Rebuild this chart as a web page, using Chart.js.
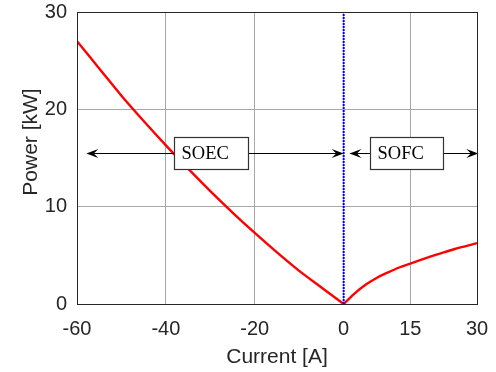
<!DOCTYPE html>
<html>
<head>
<meta charset="utf-8">
<script src="https://cdn.jsdelivr.net/npm/chart.js@4"></script>
<style>
  body { margin: 0; background: #fff; }
  #box { width: 496px; height: 372px; }
</style>
</head>
<body>
<div id="box"><canvas id="grafico" width="496" height="372"></canvas></div>
<script>
// valori
const soecCurrent = [-60, -55, -50, -45, -40, -35, -30, -25, -20, -15, -10, -5, 0];
const soecPower = [27.0, 24.2, 21.4, 18.8, 16.3, 13.9, 11.6, 9.4, 7.3, 5.3, 3.4, 1.7, 0];
const sofcCurrent = [0, 2.5, 5, 7.5, 10, 12.5, 15, 17.5, 20, 22.5, 25, 27.5, 30];
const sofcPower = [0, 1.1, 2.0, 2.7, 3.25, 3.75, 4.15, 4.55, 4.95, 5.3, 5.65, 5.95, 6.26];

const xTicks = [-60, -40, -20, 0, 15, 30];
const yTicks = [0, 10, 20, 30];

const divider = [0];

// frecce e riquadri (in unita' dei dati)
const arrows = [
  { from: -57.9, to: 0, y: 15.5 },
  { from: 1.3, to: 30.3, y: 15.5 },
];
const labels = [
  { text: "SOEC", left: -38.2, y: 15.5 },
  { text: "SOFC", left: 6.0, y: 15.5 },
];

const xTitle = "Current [A]";
const yTitle = "Power [kW]";

document.addEventListener("DOMContentLoaded", function () {
  const soec = soecCurrent.map((c, i) => ({ x: c, y: soecPower[i] }));
  const sofc = sofcCurrent.map((c, i) => ({ x: c, y: sofcPower[i] }));

  const testo = "#262626";
  const sans = "'Liberation Sans', Arial, sans-serif";

  function arrowHead(ctx, tx, ty, dir) {
    const L = 12, W = 4.6;
    ctx.beginPath();
    ctx.moveTo(tx, ty);
    ctx.lineTo(tx - dir * L, ty - W);
    ctx.lineTo(tx - dir * L * 0.62, ty);
    ctx.lineTo(tx - dir * L, ty + W);
    ctx.closePath();
    ctx.fill();
  }

  const extra = {
    id: "extra",
    afterDatasetsDraw(chart) {
      const ctx = chart.ctx;
      const x = chart.scales.x;
      const y = chart.scales.y;
      const area = chart.chartArea;
      ctx.save();

      // frecce
      ctx.strokeStyle = "#000";
      ctx.fillStyle = "#000";
      ctx.lineWidth = 1;
      arrows.forEach((a) => {
        const x1 = x.getPixelForValue(a.from);
        const x2 = x.getPixelForValue(a.to);
        const py = Math.round(y.getPixelForValue(a.y)) + 0.5;
        ctx.beginPath();
        ctx.moveTo(x1 + 6, py);
        ctx.lineTo(x2 - 6, py);
        ctx.stroke();
        arrowHead(ctx, x1, py, -1);
        arrowHead(ctx, x2, py, 1);
      });

      // riquadri
      ctx.font = "18.5px 'Liberation Serif', 'Times New Roman', serif";
      ctx.textBaseline = "middle";
      labels.forEach((l) => {
        const w = ctx.measureText(l.text).width;
        const bx = Math.round(x.getPixelForValue(l.left)) + 0.5;
        const cy = y.getPixelForValue(l.y);
        const bw = Math.round(w + 27);
        const bh = 32;
        ctx.fillStyle = "#fff";
        ctx.fillRect(bx, cy - bh / 2, bw, bh);
        ctx.strokeStyle = "#333";
        ctx.lineWidth = 1.2;
        ctx.strokeRect(bx, Math.round(cy - bh / 2) + 0.5, bw, bh);
        ctx.fillStyle = "#000";
        ctx.textAlign = "left";
        ctx.fillText(l.text, bx + 7, cy + 1);
      });

      // cornice
      ctx.strokeStyle = testo;
      ctx.lineWidth = 1;
      ctx.strokeRect(
        Math.round(area.left) + 0.5,
        Math.round(area.top) + 0.5,
        Math.round(area.right - area.left),
        Math.round(area.bottom - area.top)
      );

      // titoli assi
      ctx.fillStyle = testo;
      ctx.font = "21px " + sans;
      ctx.textAlign = "center";
      ctx.textBaseline = "middle";
      ctx.fillText(xTitle, (area.left + area.right) / 2, 357);
      ctx.translate(31, 142);
      ctx.rotate(-Math.PI / 2);
      ctx.fillText(yTitle, 0, 0);
      ctx.restore();
    },
  };

  const ctx = document.getElementById("grafico").getContext("2d");
  new Chart(ctx, {
    type: "line",
    data: {
      datasets: [
        {
          data: divider.flatMap((v) => [{ x: v, y: yTicks[0] }, { x: v, y: yTicks[yTicks.length - 1] }]),
          borderColor: "#0000ff",
          borderWidth: 2,
          borderDash: [2, 1],
          pointRadius: 0,
        },
        {
          data: soec,
          borderColor: "#ff0000",
          borderWidth: 2.4,
          pointRadius: 0,
          cubicInterpolationMode: "monotone",
        },
        {
          data: sofc,
          borderColor: "#ff0000",
          borderWidth: 2.4,
          pointRadius: 0,
          cubicInterpolationMode: "monotone",
        },
      ],
    },
    options: {
      responsive: false,
      animation: false,
      layout: { padding: { top: 12, right: 19, left: 0, bottom: 0 } },
      plugins: { legend: { display: false }, tooltip: { enabled: false } },
      scales: {
        x: {
          type: "linear",
          min: -60,
          max: 30,
          afterBuildTicks: (s) => { s.ticks = xTicks.map((v) => ({ value: v })); },
          afterFit: (s) => {
            s.height = 68;
            s.paddingLeft = 0;
            s.paddingRight = 0;
          },
          grid: { color: "#a8a8a8", drawTicks: false },
          border: { display: false },
          ticks: { color: testo, font: { family: sans, size: 20 }, padding: 13, maxRotation: 0 },
        },
        y: {
          min: 0,
          max: 30,
          afterBuildTicks: (s) => { s.ticks = yTicks.map((v) => ({ value: v })); },
          afterFit: (s) => {
            s.width = 77;
            s.paddingTop = 0;
            s.paddingBottom = 0;
          },
          grid: { color: "#a8a8a8", drawTicks: false },
          border: { display: false },
          ticks: { color: testo, font: { family: sans, size: 20 }, padding: 10 },
        },
      },
    },
    plugins: [extra],
  });
});
</script>
</body>
</html>
